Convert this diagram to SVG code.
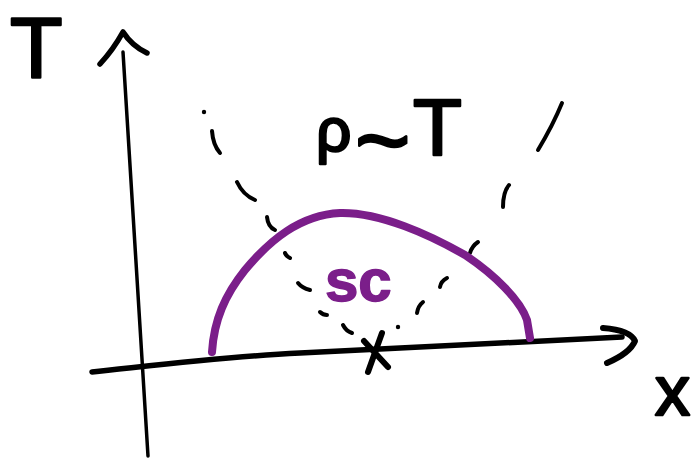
<svg xmlns="http://www.w3.org/2000/svg" width="696" height="470" viewBox="0 0 696 470">
<style>
.ink{fill:none;stroke:#000;stroke-linecap:round;stroke-linejoin:round}
.dash{fill:none;stroke:#000;stroke-width:4;stroke-linecap:round}
.lbl{font-family:"Liberation Sans",Arial,sans-serif;fill:#000;stroke:#000;stroke-width:2.5;stroke-linejoin:round}
.sc{font-family:"Liberation Sans",Arial,sans-serif;font-weight:bold;fill:#7b1e8a}
</style>
<rect width="696" height="470" fill="#fff"/>
<g id="axes">
  <path class="ink" stroke-width="3.5" d="M148,456 C144,380 133,220 123,52"/>
  <path class="ink" stroke-width="5.5" d="M100,64 Q113,50 123,32 Q132,46 147,53"/>
  <path class="ink" stroke-width="5.5" d="M92,372 C150,366 220,357 300,353 S500,343 622,337"/>
  <path class="ink" stroke-width="6" d="M603,328 Q630,330 635,341 Q630,353 607,363"/>
</g>
<g id="crossover">
  <path class="ink" stroke-width="6" d="M364,341 L388,367 M382,333 L368,372"/>
</g>
<g id="connectors">
  <g id="left-dashed">
    <circle cx="204" cy="112" r="2.2" fill="#000"/>
    <path class="dash" d="M212,131 Q213,145 220,153"/>
    <path class="dash" d="M237,182 Q243,195 255,200"/>
    <path class="dash" d="M267,217 Q268,227 275,230"/>
    <path class="dash" d="M285,253 Q286,256 290,258"/>
    <path class="dash" d="M298,283 Q302,288 310,290"/>
    <path class="dash" d="M320,312 Q323,315 327,315"/>
    <path class="dash" d="M343,325 Q346,331 352,333"/>
  </g>
  <g id="right-dashed">
    <path class="dash" d="M562,103 Q553,125 538,150"/>
    <path class="dash" d="M509,185 Q503,192 503,207"/>
    <path class="dash" d="M478,242 Q472,246 470,253"/>
    <path class="dash" d="M447,278 Q441,281 440,287"/>
    <path class="dash" d="M423,302 Q418,306 417,313"/>
    <circle cx="398" cy="327" r="2.2" fill="#000"/>
  </g>
</g>
<g id="sc-dome">
  <path fill="none" stroke="#7b1e8a" stroke-width="8" stroke-linecap="round" d="M212,352 C214,320 225,295 245,270 C270,240 300,215 340,213 C380,212 430,235 465,255 C495,275 520,300 527,320 L530,338"/>
  <text class="sc" x="325" y="301" font-size="60" stroke="#7b1e8a" stroke-width="1.5" stroke-linejoin="round">sc</text>
</g>
<g id="labels">
  <text class="lbl" x="10" y="77" font-size="86">T</text>
  <text class="lbl" x="655" y="415" font-size="70">x</text>
  <text class="lbl"><tspan x="316" y="151" font-size="62">ρ</tspan><tspan x="355" y="173" font-size="95">~</tspan><tspan x="413" y="155" font-size="80">T</tspan></text>
</g>
</svg>
